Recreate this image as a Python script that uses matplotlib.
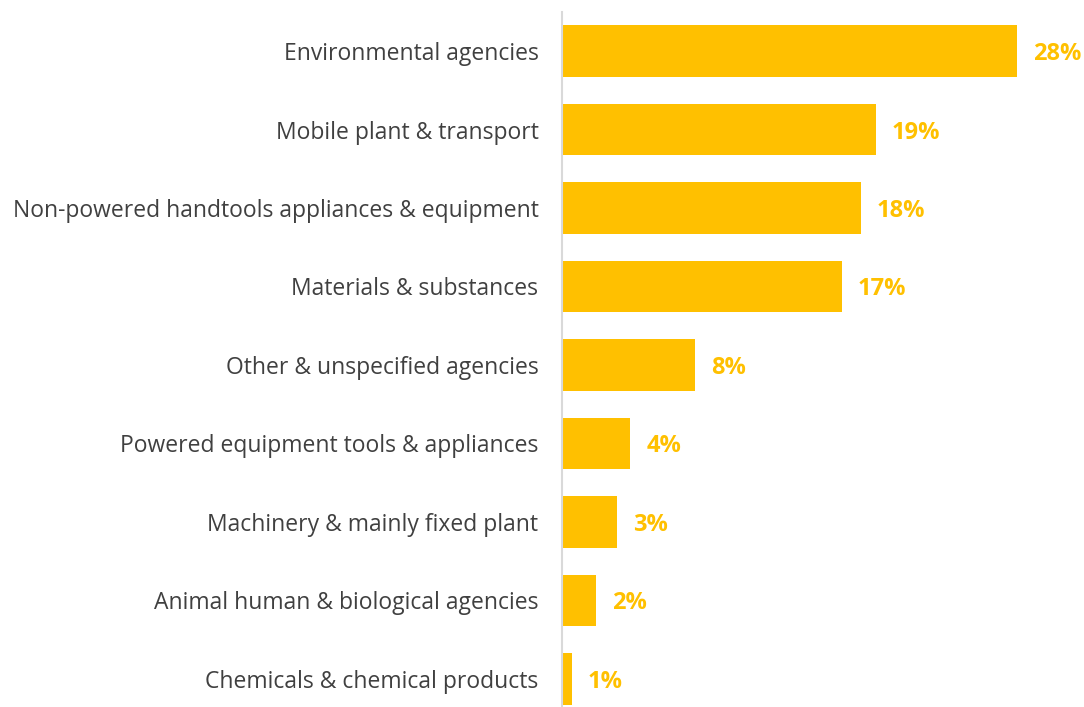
import matplotlib
matplotlib.use("Agg")
import matplotlib.pyplot as plt

categories = [
    "Environmental agencies",
    "Mobile plant & transport",
    "Non-powered handtools appliances & equipment",
    "Materials & substances",
    "Other & unspecified agencies",
    "Powered equipment tools & appliances",
    "Machinery & mainly fixed plant",
    "Animal human & biological agencies",
    "Chemicals & chemical products",
]
values = [28.0, 19.3, 18.4, 17.2, 8.2, 4.2, 3.4, 2.1, 0.6]
value_labels = ["28%", "19%", "18%", "17%", "8%", "4%", "3%", "2%", "1%"]

BAR = "#FFC000"
TEXT = "#404040"

W, H = 1084, 707
fig = plt.figure(figsize=(W / 100, H / 100), dpi=100)
left_px, right_px = 562, 1084
top_px, bot_px = 12, 707
ax = fig.add_axes([left_px / W, 1 - bot_px / H, (right_px - left_px) / W, (bot_px - top_px) / H])

pos = list(range(len(categories)))
ax.barh(pos, values, height=0.66, color=BAR, zorder=2)
ax.set_ylim(8.357, -0.497)
ax.set_xlim(0, (right_px - left_px) / 16.25)

ax.set_yticks(pos)
ax.set_yticklabels(categories, fontsize=16.5, color=TEXT, family="Open Sans")
ax.tick_params(axis="y", length=0, pad=17)
ax.set_xticks([])
for s in ["top", "right", "bottom"]:
    ax.spines[s].set_visible(False)
ax.spines["left"].set_color("#D9D9D9")
ax.spines["left"].set_linewidth(1.5)

for p, v, lab in zip(pos, values, value_labels):
    ax.annotate(lab, (v, p), xytext=(16, -3), textcoords="offset pixels",
                va="center", ha="left", fontsize=17, fontweight="bold", color=BAR, family="Open Sans")

fig.savefig("out.png", dpi=100)
